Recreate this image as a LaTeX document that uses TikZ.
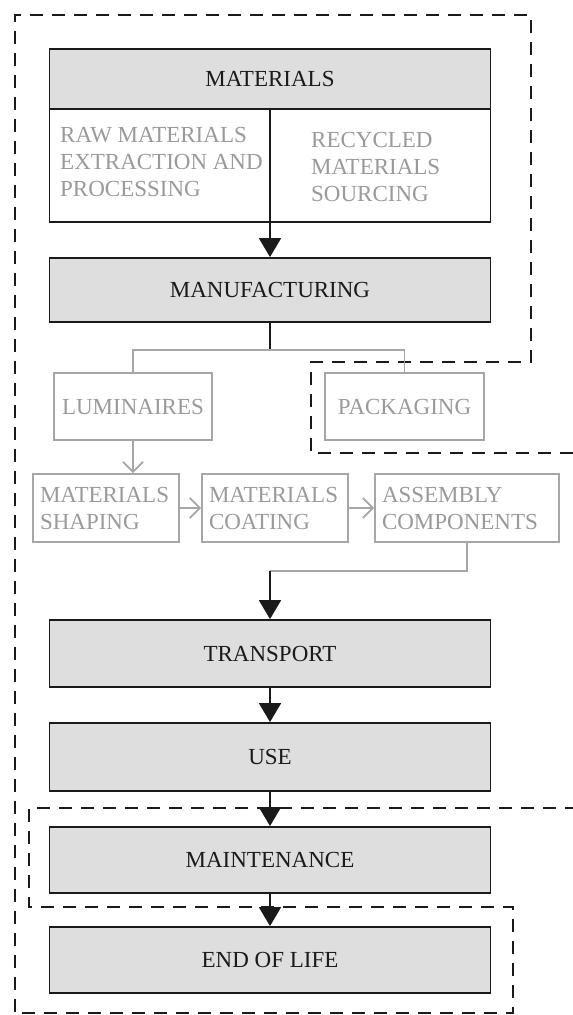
\documentclass[tikz,border=0pt]{standalone}
\usepackage{fontspec}
\setmainfont{Liberation Serif}
\usetikzlibrary{arrows.meta}
\definecolor{boxfill}{HTML}{DEDEDE}
\definecolor{lightgraytext}{HTML}{9A9A9A}
\definecolor{graybord}{HTML}{A6A6A6}
\definecolor{inkblack}{HTML}{1A1A1A}
\begin{document}
\begin{tikzpicture}[x=1pt,y=-1pt,
  txt/.style={font=\fontsize{23}{27}\selectfont},
  mainbox/.style={txt,draw=inkblack,line width=1.8pt,fill=boxfill,minimum width=441pt,inner sep=0pt,text=inkblack},
  bodybox/.style={draw=inkblack,line width=1.8pt,fill=white,minimum width=441pt,inner sep=0pt},
  graybox/.style={txt,draw=graybord,line width=1.8pt,text=lightgraytext,inner xsep=7pt,inner ysep=0pt,align=left},
  graytext/.style={txt,text=lightgraytext,align=left,inner sep=0pt},
  blackline/.style={draw=inkblack,line width=1.8pt},
  blackarrow/.style={blackline,-{Triangle[length=19pt,width=22pt]}},
  grayline/.style={draw=graybord,line width=1.8pt},
  grayarrow/.style={grayline,-{Straight Barb[length=10pt,width=20pt,line width=1.8pt]}},
  region/.style={draw=inkblack,line width=2.2pt,dash pattern=on 13pt off 9pt}
]
\useasboundingbox (0,0) rectangle (573,1015);
% dashed regions
\draw[region] (573,453) -- (311,453) -- (311,362) -- (531,362) -- (531,15) -- (14.6,15) -- (14.6,1013) -- (513,1013) -- (513,907) -- (29,907) -- (29,808) -- (573,808);
% materials
\node[bodybox,minimum height=113pt] (matbody) at (270,165.5) {};
\node[mainbox,minimum height=60pt] (mathead) at (270,79) {MATERIALS};
\node[graytext,anchor=west] (raw) at (60,162) {RAW MATERIALS\\EXTRACTION AND\\PROCESSING};
\node[graytext,anchor=west] (rec) at (311,167) {RECYCLED\\MATERIALS\\SOURCING};
% manufacturing
\node[mainbox,minimum height=64pt] (manuf) at (270,290) {MANUFACTURING};
\draw[blackarrow] (mathead.south) -- (manuf.north);
% sub processes
\node[graybox,minimum width=158pt,minimum height=67pt,align=center] (lum) at (133,406.5) {LUMINAIRES};
\node[graybox,minimum width=159pt,minimum height=67pt,align=center] (pack) at (404.5,406.5) {PACKAGING};
\node[graybox,text width=132pt,minimum height=68pt] (shape) at (106,508) {MATERIALS\\SHAPING};
\node[graybox,text width=132pt,minimum height=68pt] (coat) at (275,508) {MATERIALS\\COATING};
\node[graybox,text width=170pt,minimum height=68pt] (assem) at (467,508) {ASSEMBLY\\COMPONENTS};
\coordinate (split) at (270,350);
\coordinate (bend) at (270,571);
\draw[blackline] (manuf.south) -- (split);
\draw[grayline] (lum.north) |- (split) -| (pack.north);
\draw[grayarrow] (lum.south) -- (lum.south |- shape.north);
\draw[grayarrow] (shape.east) -- (coat.west);
\draw[grayarrow] (coat.east) -- (assem.west);
% lower chain
\node[mainbox,minimum height=67pt] (trans) at (270,653.5) {TRANSPORT};
\node[mainbox,minimum height=68pt] (use) at (270,757) {USE};
\node[mainbox,minimum height=66pt] (maint) at (270,860) {MAINTENANCE};
\node[mainbox,minimum height=66pt] (eol) at (270,960) {END OF LIFE};
\draw[grayline] (assem.south) |- (bend);
\draw[blackarrow] (bend) -- (trans.north);
\draw[blackarrow] (trans.south) -- (use.north);
\draw[blackarrow] (use.south) -- (maint.north);
\draw[blackarrow] (maint.south) -- (eol.north);
\end{tikzpicture}
\end{document}
